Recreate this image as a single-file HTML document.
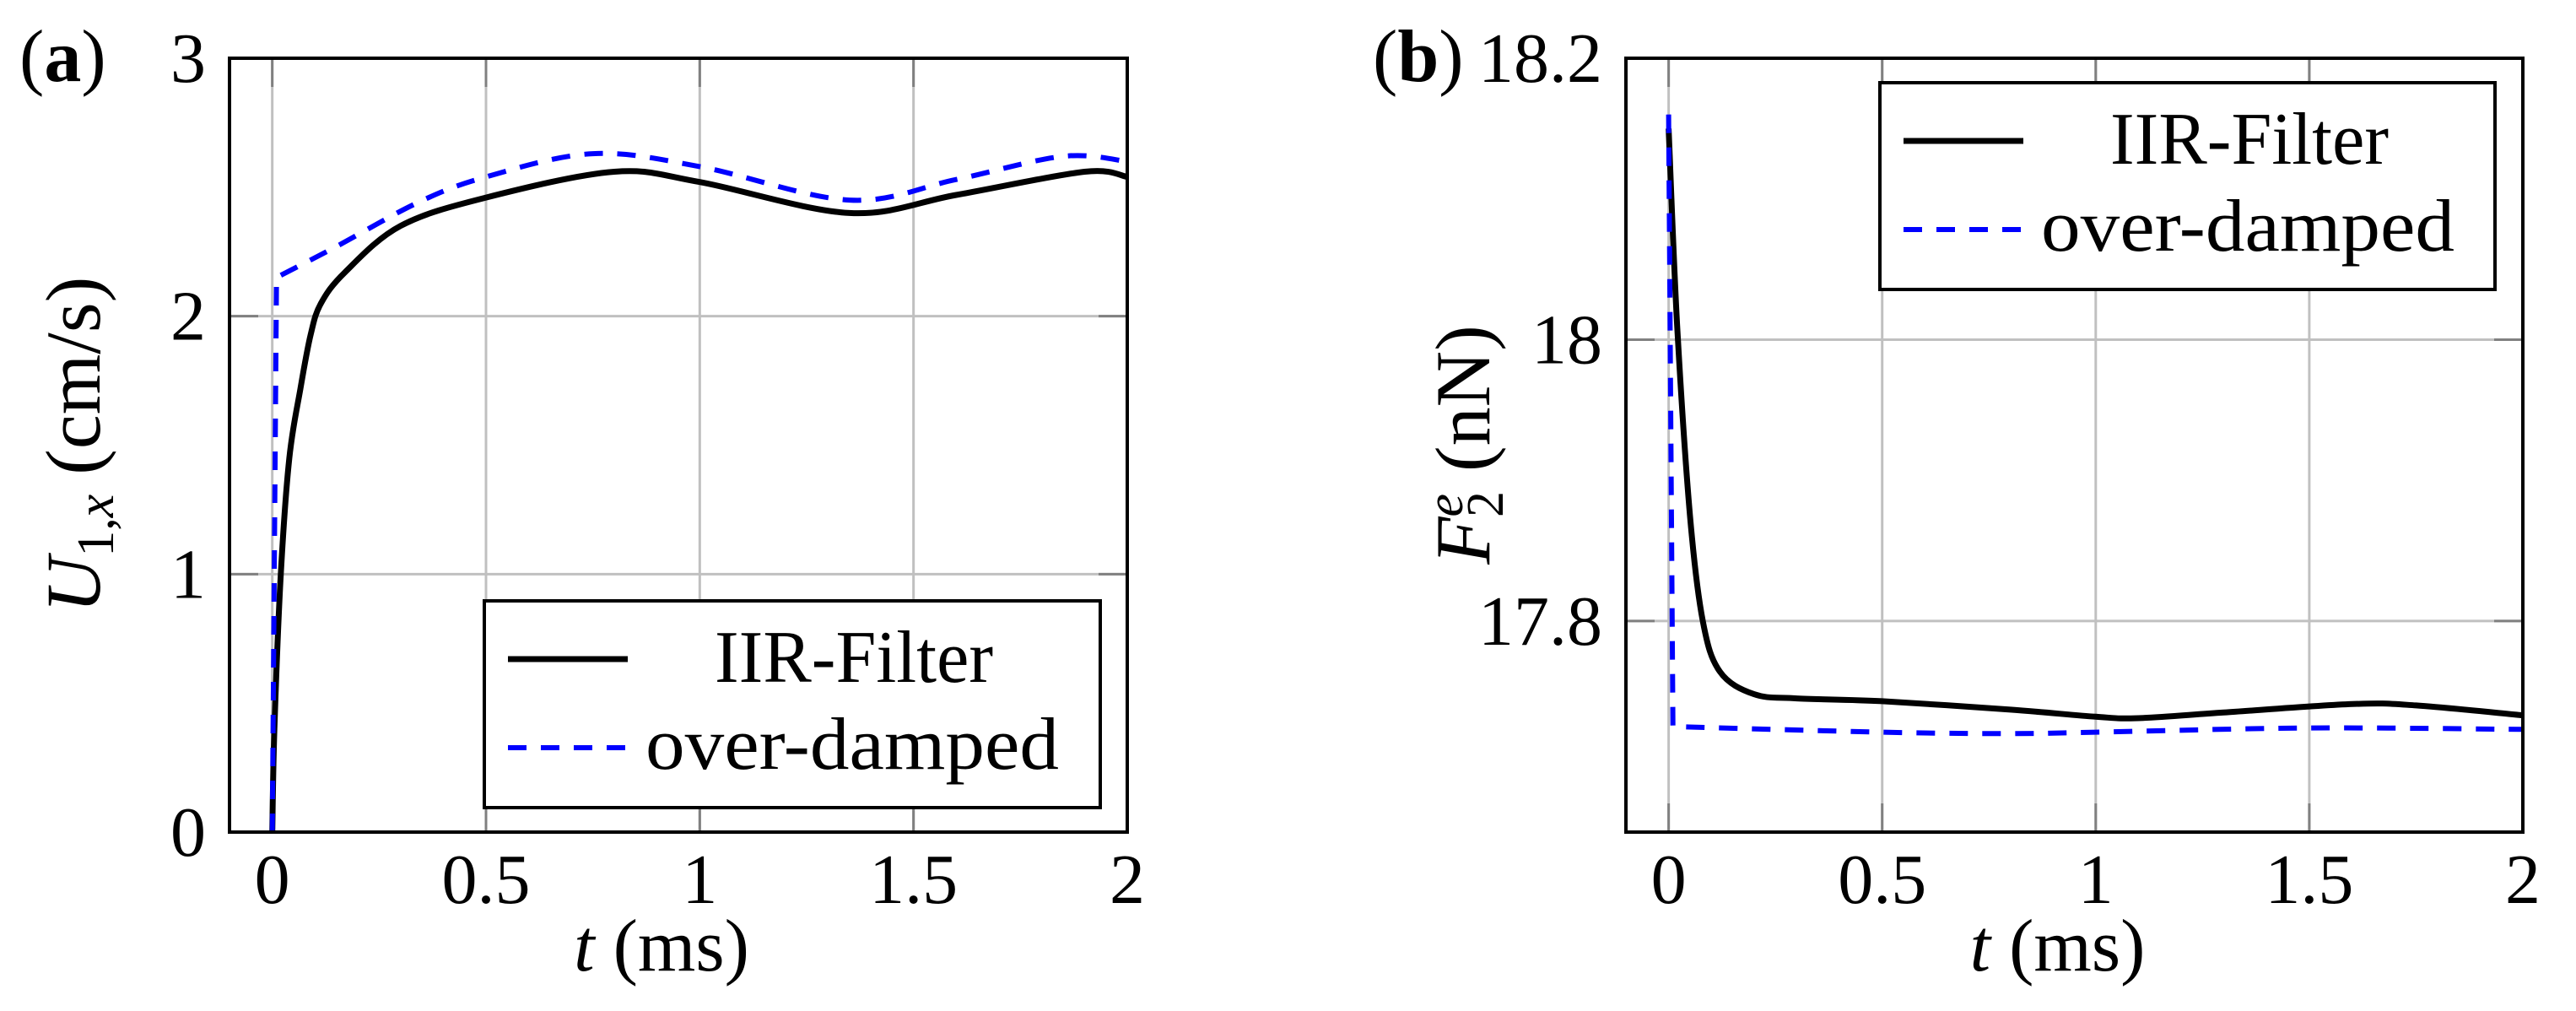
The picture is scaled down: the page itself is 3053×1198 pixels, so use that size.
<!DOCTYPE html>
<html><head><meta charset="utf-8"><style>
html,body{margin:0;padding:0;background:#fff;}
svg{display:block;font-family:"Liberation Serif",serif;}
</style></head><body>
<svg id="fig" width="3053" height="1198" viewBox="0 0 3053 1198" xmlns="http://www.w3.org/2000/svg"></svg>
<script>
// Panel (a) data
const aTime = [0, 0.005, 0.02, 0.04, 0.066, 0.09, 0.114, 0.17, 0.3, 0.5, 0.8, 1.0, 1.35, 1.6, 1.9, 2.0];
const aIIR  = [0, 0.4, 1.0, 1.45, 1.72, 1.93, 2.05, 2.17, 2.35, 2.46, 2.56, 2.52, 2.40, 2.47, 2.56, 2.54];
const aOdTime = [0, 0.01, 0.15, 0.34, 0.5, 0.75, 1.0, 1.35, 1.6, 1.85, 2.0];
const aOd     = [0, 2.15, 2.27, 2.44, 2.54, 2.63, 2.58, 2.45, 2.53, 2.62, 2.60];
const aYTicks = [0, 1, 2, 3];
// Panel (b) data
const bTime = [0, 0.02, 0.05, 0.08, 0.12, 0.2, 0.3, 0.5, 0.8, 1.0, 1.1, 1.3, 1.6, 1.75, 2.0];
const bIIR  = [18.15, 18.01, 17.875, 17.80, 17.764, 17.748, 17.745, 17.743, 17.737, 17.732, 17.731, 17.735, 17.741, 17.740, 17.733];
const bOdTime = [0, 0.01, 0.5, 0.8, 1.0, 1.5, 2.0];
const bOd     = [18.16, 17.725, 17.721, 17.72, 17.721, 17.724, 17.723];
const bYTicks = [17.8, 18, 18.2];
const xTicks = [0, 0.5, 1, 1.5, 2];
const xTickLabels = ["0", "0.5", "1", "1.5", "2"];

const NS = "http://www.w3.org/2000/svg";
const svg = document.getElementById('fig');
function mk(tag, attrs, parent){
  const e = document.createElementNS(NS, tag);
  for (const k in attrs) e.setAttribute(k, attrs[k]);
  (parent||svg).appendChild(e); return e;
}
function smoothPath(xs, ys, sx, sy, sharpIdx){
  const P = xs.map((x,i)=>[sx(x), sy(ys[i])]);
  let d = "M"+P[0][0].toFixed(1)+","+P[0][1].toFixed(1);
  for (let i=0;i<P.length-1;i++){
    if (sharpIdx !== undefined && i < sharpIdx){ d += " L"+P[i+1][0].toFixed(1)+","+P[i+1][1].toFixed(1); continue; }
    const p0 = P[Math.max(i-1, sharpIdx!==undefined?sharpIdx:0)], p1=P[i], p2=P[i+1], p3=P[Math.min(i+2,P.length-1)];
    const c1=[p1[0]+(p2[0]-p0[0])/6, p1[1]+(p2[1]-p0[1])/6];
    const c2=[p2[0]-(p3[0]-p1[0])/6, p2[1]-(p3[1]-p1[1])/6];
    d += " C"+c1[0].toFixed(1)+","+c1[1].toFixed(1)+" "+c2[0].toFixed(1)+","+c2[1].toFixed(1)+" "+p2[0].toFixed(1)+","+p2[1].toFixed(1);
  }
  return d;
}

function panel(cfg){
  const g = mk('g', {});
  
  
  const L=cfg.left, R=cfg.right, T=69, B=986;
  const sx = v => L + (v - (-0.1)) / 2.1 * (R - L);
  const sy = v => B - (v - cfg.ymin) / (cfg.ymax - cfg.ymin) * (B - T);
  const clip = mk('clipPath', {id: cfg.id+'clip'}, g);
  mk('rect', {x:L, y:T, width:R-L, height:B-T}, clip);
  xTicks.forEach(v=>{
    const l = mk('line', {x1:sx(v), x2:sx(v), y1:T, y2:B, stroke:'#c0c0c0', 'stroke-width':3}, g);
    
    
    mk('line', {x1:sx(v), x2:sx(v), y1:T, y2:T+34, stroke:'#808080', 'stroke-width':3}, g);
    mk('line', {x1:sx(v), x2:sx(v), y1:B, y2:B-34, stroke:'#808080', 'stroke-width':3}, g);
  });
  cfg.yticks.forEach(v=>{
    if (v > cfg.ymin && v < cfg.ymax){
      const l = mk('line', {x1:L, x2:R, y1:sy(v), y2:sy(v), stroke:'#c0c0c0', 'stroke-width':3}, g);
      
      
      mk('line', {x1:L, x2:L+34, y1:sy(v), y2:sy(v), stroke:'#808080', 'stroke-width':3}, g);
      mk('line', {x1:R, x2:R-34, y1:sy(v), y2:sy(v), stroke:'#808080', 'stroke-width':3}, g);
    }
  });
  const cg = mk('g', {'clip-path':'url(#'+cfg.id+'clip)'}, g);
  const p1 = mk('path', {d:smoothPath(cfg.t1, cfg.v1, sx, sy), fill:'none', stroke:'#000', 'stroke-width':7}, cg);
  
  
  const p2 = mk('path', {d:smoothPath(cfg.t2, cfg.v2, sx, sy, 1), fill:'none', stroke:'#0000ff', 'stroke-width':6, 'stroke-dasharray':'22 17'}, cg);
  
  
  const fr = mk('rect', {x:L, y:T, width:R-L, height:B-T, fill:'none', stroke:'#000', 'stroke-width':4}, g);
  
  
  xTicks.forEach((v,i)=>{
    const t = mk('text', {x:sx(v), y:1070, 'font-size':84, 'text-anchor':'middle'}, g);
    t.textContent = xTickLabels[i];
    
    
  });
  cfg.yticks.forEach(v=>{
    const t = mk('text', {x:L-28, y:sy(v)+28, 'font-size':84, 'text-anchor':'end'}, g);
    t.textContent = String(v);
    
    
  });
  const xt = mk('text', {x:(L+R)/2 - 20, y:1150, 'font-size':88, 'text-anchor':'middle'}, g);
  xt.innerHTML = '<tspan font-style="italic">t</tspan> (ms)';
  
  
  const yt = mk('text', {x:0, y:0, 'font-size':92, 'text-anchor':'middle', transform:'translate('+cfg.ytx+',527) rotate(-90)'}, g);
  yt.innerHTML = cfg.ytitle;
  
  
  const pl = mk('text', {x:cfg.plx, y:96, 'font-size':88}, g);
  pl.innerHTML = '(<tspan font-weight="bold">'+cfg.letter+'</tspan>)';
  
  
  const lg = mk('g', {}, g);
  
  
  const lb = cfg.leg;
  mk('rect', {x:lb.x, y:lb.y, width:lb.w, height:lb.h, fill:'#fff', stroke:'#000', 'stroke-width':4}, lg);
  const e1 = mk('g', {}, lg);
  
  
  mk('line', {x1:lb.x+28, x2:lb.x+170, y1:lb.y+69, y2:lb.y+69, stroke:'#000', 'stroke-width':7}, e1);
  const t1 = mk('text', {x:lb.x+273, y:lb.y+96, 'font-size':88, textLength:330, lengthAdjust:'spacingAndGlyphs'}, e1);
  t1.textContent = 'IIR-Filter';
  const e2 = mk('g', {}, lg);
  
  
  mk('line', {x1:lb.x+28, x2:lb.x+170, y1:lb.y+174, y2:lb.y+174, stroke:'#0000ff', 'stroke-width':6, 'stroke-dasharray':'22 17'}, e2);
  const t2 = mk('text', {x:lb.x+191, y:lb.y+199, 'font-size':88, textLength:490, lengthAdjust:'spacingAndGlyphs'}, e2);
  t2.textContent = 'over-damped';
}

panel({id:'a', name:'panel-a-velocity', letter:'a', left:272, right:1336, ymin:0, ymax:3, yticks:aYTicks,
  t1:aTime, v1:aIIR, t2:aOdTime, v2:aOd, ytx:118, plx:23,
  ytitle:'<tspan font-style="italic">U</tspan><tspan font-size="62" dy="16">1,</tspan><tspan font-size="62" font-style="italic">x</tspan><tspan dy="-16"> (cm/s)</tspan>',
  leg:{x:574, y:712, w:730, h:245}});
panel({id:'b', name:'panel-b-force', letter:'b', left:1927, right:2990, ymin:17.65, ymax:18.2, yticks:bYTicks,
  t1:bTime, v1:bIIR, t2:bOdTime, v2:bOd, ytx:1765, plx:1627,
  ytitle:'<tspan font-style="italic">F</tspan><tspan font-size="62" font-style="italic" dy="-32">e</tspan><tspan font-size="62" dx="-28" dy="48">2</tspan><tspan dy="-16"> (nN)</tspan>',
  leg:{x:2228, y:98, w:729, h:245}});
</script>
</body></html>
